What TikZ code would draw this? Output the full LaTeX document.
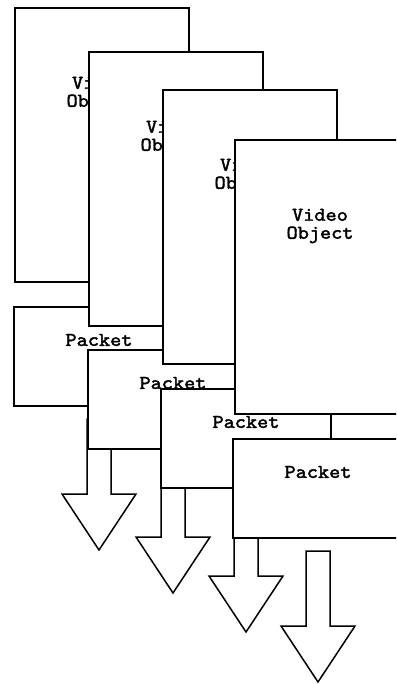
\documentclass[tikz,border=0pt]{standalone}
\usepackage{fontspec}
\newfontfamily\lblfont{lmmono10-regular.otf}[FakeStretch=1.09,FakeBold=2]
\begin{document}
\begin{tikzpicture}[x=1pt,y=-1pt,
  box/.style={draw=black,fill=white,line width=1.5pt,inner sep=0pt,outer sep=0pt,anchor=north west},
  vbox/.style={box,minimum width=174pt,minimum height=274pt},
  pbox/.style={box,minimum width=170pt,minimum height=99pt},
  lbl/.style={font=\lblfont\fontsize{19.5}{18}\selectfont,align=center,inner sep=0pt},
  bigarrow/.style={draw=black,fill=white,line width=1.5pt,line join=miter}]
\useasboundingbox (0,0) rectangle (396,684);
\clip (0,0) rectangle (396,684);
\foreach \vx/\vy/\px/\py/\n in {15/8/14/307/1, 89/52/88/350/2, 163/90/161/389/3, 235/140/233/439/4}{
  \node[vbox] (v\n) at (\vx,\vy) {};
  \node[lbl] (vt\n) at (\vx+85,\vy+86) {Video\\Object};
  \node[pbox] (p\n) at (\px,\py) {};
  \node[lbl] (pt\n) at (\px+85,\py+33) {Packet};
  \draw[bigarrow] (\px+73,\py+112) -- (\px+97,\py+112) -- (\px+97,\py+187)
    -- (\px+122,\py+187) -- (\px+85,\py+243) -- (\px+48,\py+187)
    -- (\px+73,\py+187) -- cycle;
}
\end{tikzpicture}
\end{document}
